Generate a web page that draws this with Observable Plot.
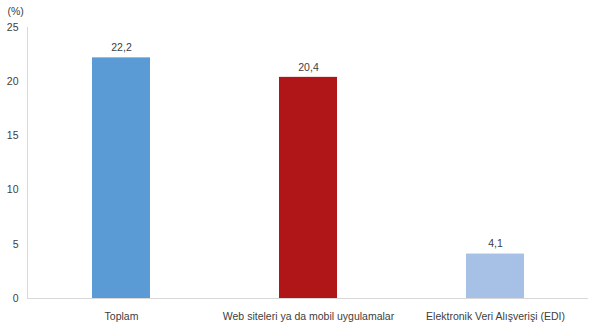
<!DOCTYPE html>
<html>
<head>
<meta charset="utf-8">
<script src="https://cdn.jsdelivr.net/npm/d3@7"></script>
<script src="https://cdn.jsdelivr.net/npm/@observablehq/plot@0.6"></script>
<style>
  body { margin: 0; background: #fff; }
  svg { font-family: "Liberation Sans", Arial, sans-serif; }
</style>
</head>
<body>
<div id="chart"></div>
<script>
const categories = ["Toplam", "Web siteleri ya da mobil uygulamalar", "Elektronik Veri Alışverişi (EDI)"];
const values = [22.2, 20.4, 4.1];
const colors = ["#5B9BD5", "#B01517", "#A6C0E6"];
const labels = ["22,2", "20,4", "4,1"];
const yTicks = [0, 5, 10, 15, 20, 25];

const data = categories.map((c, i) => ({cat: c, value: values[i], color: colors[i], label: labels[i]}));

const chart = Plot.plot({
  width: 600,
  height: 324,
  marginLeft: 27,
  marginRight: 12,
  marginTop: 27,
  marginBottom: 26,
  style: {fontFamily: "'Liberation Sans', Arial, sans-serif", fontSize: "11px", color: "#404040", background: "#fff"},
  x: {domain: categories, paddingInner: 0.69, paddingOuter: 0.345, label: null},
  y: {domain: [0, 25], ticks: yTicks, label: null},
  marks: [
    Plot.frame({anchor: "left", stroke: "#d9d9d9"}),
    Plot.ruleY([0], {stroke: "#d9d9d9"}),
    Plot.barY(data, {x: "cat", y: "value", fill: "color"}),
    Plot.text(data, {x: "cat", y: "value", text: "label", dy: -10, fontSize: 10.5, fill: "#404040"}),
    Plot.axisY({ticks: yTicks, tickSize: 0, tickPadding: 9, tickFormat: d => String(d), fill: "#404040", fontSize: 10.5, label: null}),
    Plot.axisX({tickSize: 0, tickPadding: 14, fill: "#404040", fontSize: 10.5, label: null}),
    Plot.text(["(%)"], {frameAnchor: "top-left", dx: -20, dy: -20, fontSize: 10.5, fill: "#404040", textAnchor: "start"})
  ]
});
document.getElementById("chart").appendChild(chart);
</script>
</body>
</html>
